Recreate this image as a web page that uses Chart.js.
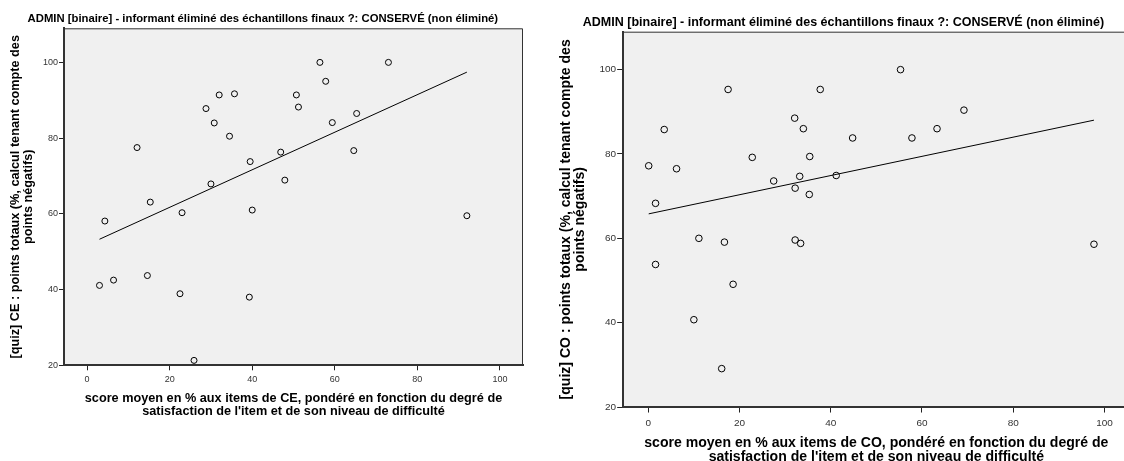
<!DOCTYPE html>
<html>
<head>
<meta charset="utf-8">
<script src="https://cdn.jsdelivr.net/npm/chart.js@4"></script>
<style>
html, body { margin: 0; padding: 0; background: #fff; overflow: hidden; width: 1124px; height: 461px; }
canvas { position: absolute; top: 0; }
</style>
</head>
<body>
<canvas id="ce" width="528" height="461" style="left:0"></canvas>
<canvas id="co" width="583" height="475" style="left:552px"></canvas>
<script>
const titre = "ADMIN [binaire] - informant éliminé des échantillons finaux ?: CONSERVÉ (non éliminé)";
const xTicks = [0, 20, 40, 60, 80, 100];
const yTicks = [20, 40, 60, 80, 100];

// CE : score moyen pondéré (x) / points totaux au quiz (y)
const ceX = [4.3, 12.1, 15.3, 23.0, 28.8, 30.8, 32.0, 30.0, 34.5, 35.7, 39.5, 40.0, 46.9, 47.9, 50.7,
  51.2, 56.4, 57.8, 59.4, 64.6, 65.3, 73.0, 92.0, 3.0, 6.4, 14.6, 22.5, 39.3, 25.9];
const ceY = [58.1, 77.5, 63.1, 60.3, 87.8, 84.0, 91.4, 67.9, 80.5, 91.7, 73.8, 61.0, 76.3, 68.9, 91.4,
  88.2, 100, 95.0, 84.1, 76.7, 86.5, 100, 59.5, 41.1, 42.5, 43.7, 38.9, 38.0, 21.3];

// CO
const coX = [0.1, 1.6, 3.5, 6.2, 17.5, 22.8, 27.5, 32.1, 32.2, 33.2, 34.0, 35.4, 35.3, 37.7, 41.2,
  44.8, 55.3, 57.8, 63.3, 69.2, 1.6, 11.1, 10.0, 16.7, 18.6, 16.1, 32.2, 33.4, 97.7];
const coY = [77.2, 68.3, 85.8, 76.5, 95.3, 79.2, 73.6, 88.5, 71.9, 74.7, 86.0, 79.4, 70.4, 95.3, 74.9,
  83.8, 100, 83.8, 86.0, 90.4, 53.8, 60.0, 40.7, 59.1, 49.1, 29.1, 59.6, 58.8, 58.6];

const police = "'Liberation Sans', Arial, sans-serif";

// droite des moindres carrés entre le min et le max de x
function droite(xs, ys) {
  const n = xs.length;
  const mx = xs.reduce((a, b) => a + b, 0) / n;
  const my = ys.reduce((a, b) => a + b, 0) / n;
  let sxy = 0, sxx = 0;
  for (let i = 0; i < n; i++) {
    sxy += (xs[i] - mx) * (ys[i] - my);
    sxx += (xs[i] - mx) * (xs[i] - mx);
  }
  const b = sxy / sxx, a = my - b * mx;
  const x0 = Math.min(...xs), x1 = Math.max(...xs);
  return [{ x: x0, y: a + b * x0 }, { x: x1, y: a + b * x1 }];
}

// fond gris et cadre haut/droite de la zone de tracé
const cadre = {
  id: 'cadre',
  beforeDraw(chart) {
    const a = chart.chartArea, ctx = chart.ctx;
    ctx.save();
    ctx.fillStyle = '#f0f0f0';
    ctx.fillRect(a.left, a.top, a.right - a.left, a.bottom - a.top);
    ctx.restore();
  },
  afterDraw(chart) {
    const a = chart.chartArea, ctx = chart.ctx;
    ctx.save();
    ctx.strokeStyle = '#333';
    ctx.lineWidth = 1;
    ctx.beginPath();
    ctx.moveTo(a.left, a.top + 0.5);
    ctx.lineTo(a.right - 0.5, a.top + 0.5);
    ctx.lineTo(a.right - 0.5, a.bottom);
    ctx.stroke();
    ctx.restore();
  }
};

function nuage(id, o) {
  const s = o.s;
  const ts = 11.3 * s, tl = ts * 1.2;
  const pts = o.xs.map((x, i) => ({ x: x, y: o.ys[i] }));
  return new Chart(document.getElementById(id), {
    type: 'scatter',
    data: {
      datasets: [
        {
          data: pts,
          pointStyle: 'circle',
          pointRadius: o.r,
          pointBorderWidth: 1,
          pointBorderColor: '#000',
          pointBackgroundColor: 'rgba(0,0,0,0)'
        },
        {
          type: 'line',
          data: droite(o.xs, o.ys),
          borderColor: '#000',
          borderWidth: 1,
          pointRadius: 0,
          fill: false
        }
      ]
    },
    options: {
      responsive: false,
      animation: false,
      events: [],
      layout: { padding: { left: 0, top: 0, right: o.w - o.area.right, bottom: 0 } },
      plugins: {
        legend: { display: false },
        tooltip: { enabled: false },
        title: {
          display: true,
          text: titre,
          color: '#000',
          font: { family: police, size: ts, weight: 'bold', lineHeight: 1.2 },
          padding: { top: o.tTop, bottom: o.area.top - o.tTop - tl }
        }
      },
      scales: {
        x: {
          type: 'linear',
          min: -5.6,
          max: 105.6,
          afterBuildTicks: sc => { sc.ticks = xTicks.map(v => ({ value: v })); },
          afterFit: sc => { sc.height = o.h - o.area.bottom; },
          grid: { drawOnChartArea: false, drawTicks: true, tickLength: 5 * s, tickColor: '#222', tickWidth: 1 },
          border: { display: true, color: '#333', width: 2 },
          ticks: { color: '#333', padding: 4 * s, maxRotation: 0, font: { family: police, size: 9 * s } },
          title: {
            display: true,
            text: o.xTitre,
            color: '#000',
            font: { family: police, size: 12.7 * s, weight: 'bold', lineHeight: 0.96 },
            padding: { top: 0, bottom: o.xPb }
          }
        },
        y: {
          type: 'linear',
          min: 20,
          max: 109,
          afterBuildTicks: sc => { sc.ticks = yTicks.map(v => ({ value: v })); },
          afterFit: sc => { sc.width = o.area.left; },
          grid: { drawOnChartArea: false, drawTicks: true, tickLength: 5 * s, tickColor: '#222', tickWidth: 1 },
          border: { display: true, color: '#333', width: 2 },
          ticks: { color: '#333', padding: 1, font: { family: police, size: 9 * s } },
          title: {
            display: true,
            text: o.yTitre,
            color: '#000',
            font: { family: police, size: 12.7 * s, weight: 'bold', lineHeight: 1.0 },
            padding: { top: o.yPt, bottom: 0 }
          }
        }
      }
    },
    plugins: [cadre]
  });
}

nuage('ce', {
  s: 1, w: 528, h: 461, r: 3,
  xs: ceX, ys: ceY,
  area: { left: 64, top: 28.3, right: 525.7, bottom: 365.3 },
  tTop: 12.2, xPb: 43.9, yPt: 9.6,
  xTitre: ["score moyen en % aux items de CE, pondéré en fonction du degré de",
    "satisfaction de l'item et de son niveau de difficulté"],
  yTitre: ["[quiz] CE : points totaux (%, calcul tenant compte des", "points négatifs)"]
});

nuage('co', {
  s: 1.108, w: 583, h: 475, r: 3.3,
  xs: coX, ys: coY,
  area: { left: 70.7, top: 31.7, right: 582.8, bottom: 407 },
  tTop: 14.8, xPb: 11.3, yPt: 7,
  xTitre: ["score moyen en % aux items de CO, pondéré en fonction du degré de",
    "satisfaction de l'item et de son niveau de difficulté"],
  yTitre: ["[quiz] CO : points totaux (%, calcul tenant compte des", "points négatifs)"]
});
</script>
</body>
</html>
